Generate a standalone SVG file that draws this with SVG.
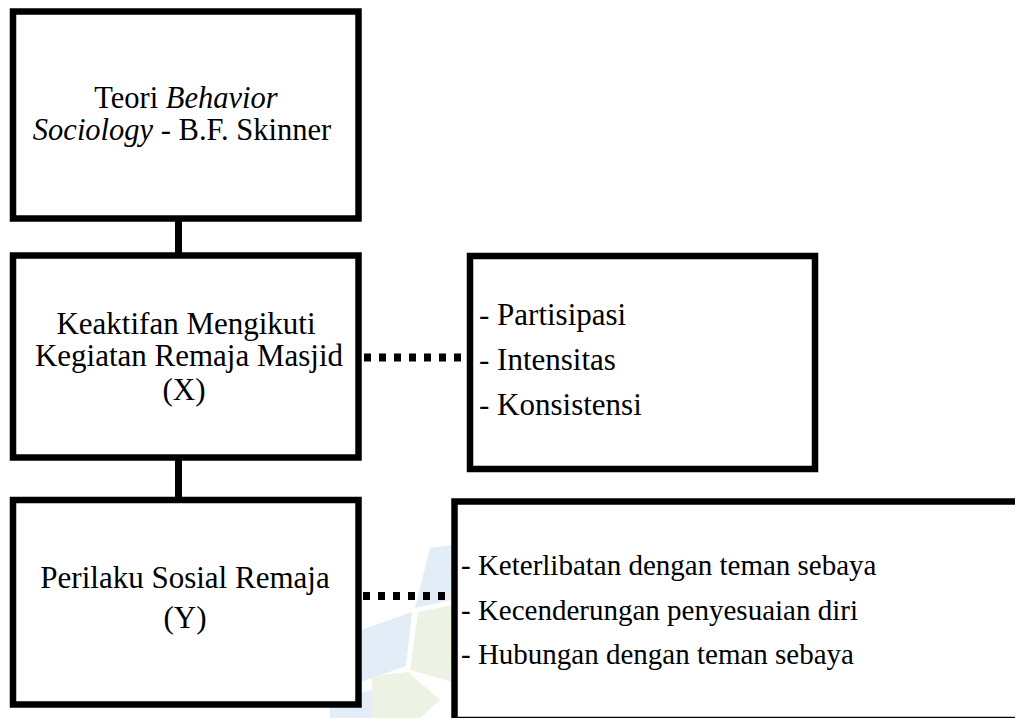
<svg xmlns="http://www.w3.org/2000/svg" width="1015" height="718" viewBox="0 0 1015 718">
<style>
.box{fill:#fff;stroke:#000;stroke-width:6.5}
.t{font-family:"Liberation Serif","Times New Roman",serif;fill:#000}
.c{text-anchor:middle}
.solid{stroke:#000;stroke-width:7;fill:none}
.dot{stroke:#000;stroke-width:8;fill:none;stroke-dasharray:7 8}
.wb{fill:#e2edf8}
.wg{fill:#ecf3e4}
</style>
<rect width="1015" height="718" fill="#fff"/>
<g id="watermark">
<polygon class="wb" points="430,548 452,545 452,600 415,608"/>
<polygon class="wb" points="355,632 412,612 406,666 355,684"/>
<polygon class="wg" points="418,612 452,605 452,682 410,670"/>
<polygon class="wg" points="372,676 408,672 440,700 420,718 372,718"/>
<polygon class="wb" points="330,700 372,690 372,718 330,718"/>
</g>
<g id="connectors">
<line class="solid" x1="178.5" y1="220" x2="178.5" y2="254"/>
<line class="solid" x1="178.5" y1="459" x2="178.5" y2="499"/>
<line class="dot" x1="364" y1="357.5" x2="467" y2="357.5"/>
<line class="dot" x1="363" y1="596" x2="452" y2="596"/>
</g>
<g id="theory">
<rect class="box" x="13" y="11.5" width="345.5" height="207"/>
<text class="t c" font-size="30.5" x="186" y="108">Teori <tspan font-style="italic">Behavior</tspan></text>
<text class="t c" font-size="30.5" x="182" y="140"><tspan font-style="italic">Sociology</tspan> - B.F. Skinner</text>
</g>
<g id="variable-x">
<rect class="box" x="13" y="255.5" width="345.5" height="202"/>
<text class="t c" font-size="31" x="186" y="334">Keaktifan Mengikuti</text>
<text class="t c" font-size="31" x="189" y="366">Kegiatan Remaja Masjid</text>
<text class="t c" font-size="31" x="184" y="399.5">(X)</text>
</g>
<g id="indicators-x">
<rect class="box" x="470" y="256" width="345" height="213"/>
<text class="t" font-size="31" x="479" y="325">- Partisipasi</text>
<text class="t" font-size="31" x="479" y="370">- Intensitas</text>
<text class="t" font-size="31" x="479" y="415">- Konsistensi</text>
</g>
<g id="variable-y">
<rect class="box" x="13" y="500" width="345.5" height="204.5"/>
<text class="t c" font-size="31" x="185" y="588">Perilaku Sosial Remaja</text>
<text class="t c" font-size="31" x="185" y="628">(Y)</text>
</g>
<g id="indicators-y">
<rect class="box" x="454.5" y="501.5" width="580" height="218.5"/>
<text class="t" font-size="29" x="461" y="574.5">- Keterlibatan dengan teman sebaya</text>
<text class="t" font-size="29" x="461" y="620">- Kecenderungan penyesuaian diri</text>
<text class="t" font-size="29" x="461" y="664">- Hubungan dengan teman sebaya</text>
</g>
</svg>
